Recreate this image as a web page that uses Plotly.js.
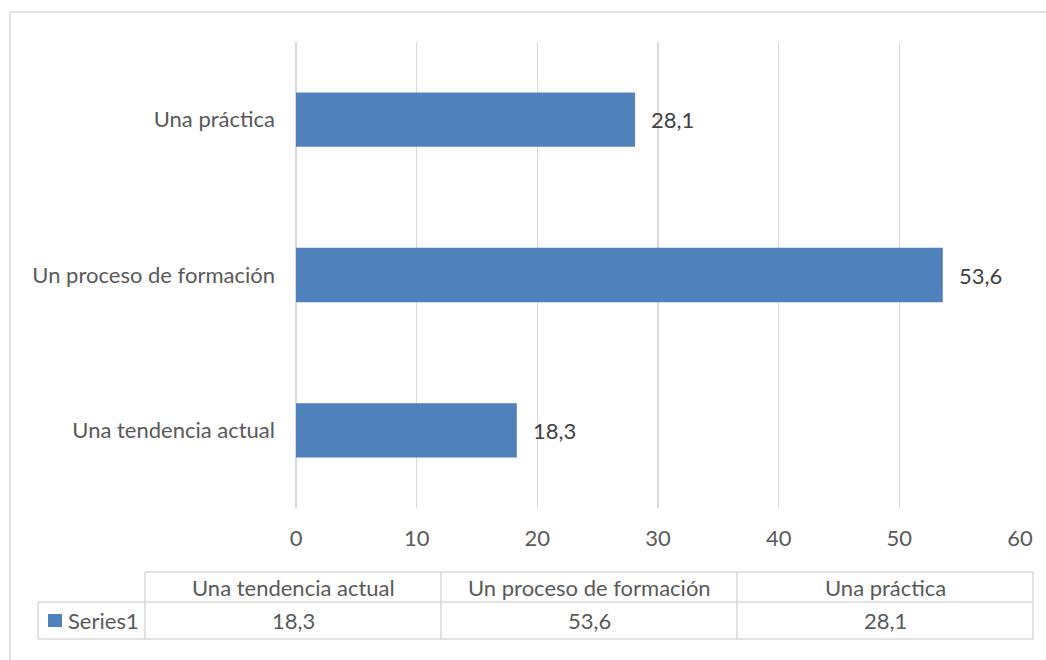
<!DOCTYPE html>
<html>
<head>
<meta charset="utf-8">
<script src="https://cdn.plot.ly/plotly-3.0.1.min.js"></script>
<style>html,body{margin:0;padding:0;background:#fff;}#chart{width:1046px;height:660px;}</style>
</head>
<body>
<div id="chart"></div>
<script>
const categories = ['Una tendencia actual', 'Un proceso de formación', 'Una práctica'];
const values = [18.3, 53.6, 28.1];
const seriesName = 'Series1';
const xTicks = [0, 10, 20, 30, 40, 50, 60];

const W = 1046, H = 660;
const M = {l: 296, r: 26, t: 42, b: 152};
const PW = W - M.l - M.r, PH = H - M.t - M.b;
const px = x => (x - M.l) / PW;
const py = y => (H - M.b - y) / PH;

const FONT = 'Lato, "Open Sans", sans-serif';
const FS = 22;
const TXT = '#595959';
const BAR = '#4f81bd';
const GRID = '#d9d9d9';
const fmt = v => v.toFixed(1).replace('.', ',');

const trace = {
  type: 'bar', orientation: 'h',
  x: values, y: categories, name: seriesName,
  width: 0.35,
  marker: {color: BAR, line: {width: 0}},
  hoverinfo: 'none'
};

const shapes = [];
const annotations = [];

// chart outer border
shapes.push({type: 'rect', xref: 'paper', yref: 'paper', x0: px(10), x1: px(1060), y0: py(12), y1: py(680),
  line: {color: GRID, width: 1.5}, fillcolor: 'rgba(0,0,0,0)', layer: 'below'});

// value labels
values.forEach((v, i) => {
  annotations.push({x: v, y: categories[i], xref: 'x', yref: 'y', text: fmt(v), showarrow: false,
    xanchor: 'left', xshift: 14, font: {family: FONT, size: FS, color: '#404040'}});
});

// data table
const tLeft = 38, tColStart = 145, tRight = 1033;
const rTop = 572, rMid = 602, rBot = 639;
const colW = (tRight - tColStart) / categories.length;
const line = {color: GRID, width: 1.5};
const hl = (x0, x1, y) => shapes.push({type: 'line', xref: 'paper', yref: 'paper', x0: px(x0), x1: px(x1), y0: py(y), y1: py(y), line});
const vl = (x, y0, y1) => shapes.push({type: 'line', xref: 'paper', yref: 'paper', x0: px(x), x1: px(x), y0: py(y0), y1: py(y1), line});
hl(tColStart, tRight, rTop);
hl(tLeft, tRight, rMid);
hl(tLeft, tRight, rBot);
vl(tLeft, rMid, rBot);
for (let i = 0; i <= categories.length; i++) vl(tColStart + i * colW, rTop, rBot);

categories.forEach((c, i) => {
  const cx = tColStart + (i + 0.5) * colW;
  annotations.push({xref: 'paper', yref: 'paper', x: px(cx), y: py((rTop + rMid) / 2), text: c, showarrow: false,
    xanchor: 'center', yanchor: 'middle', font: {family: FONT, size: FS, color: TXT}});
  annotations.push({xref: 'paper', yref: 'paper', x: px(cx), y: py((rMid + rBot) / 2), text: fmt(values[i]), showarrow: false,
    xanchor: 'center', yanchor: 'middle', font: {family: FONT, size: FS, color: TXT}});
});
// legend key
shapes.push({type: 'rect', xref: 'paper', yref: 'paper', x0: px(48), x1: px(62), y0: py(614), y1: py(627),
  fillcolor: BAR, line: {width: 0}});
annotations.push({xref: 'paper', yref: 'paper', x: px(66), y: py((rMid + rBot) / 2), text: seriesName, showarrow: false,
  xanchor: 'left', yanchor: 'middle', font: {family: FONT, size: FS, color: TXT}});

const layout = {
  width: W, height: H,
  margin: M,
  paper_bgcolor: '#fff', plot_bgcolor: '#fff',
  showlegend: false,
  font: {family: FONT, color: TXT},
  xaxis: {range: [0, 60], tickvals: xTicks, ticktext: xTicks.map(String),
    showgrid: true, gridcolor: GRID, gridwidth: 1.5, zeroline: true, zerolinecolor: GRID, zerolinewidth: 1.5,
    showline: false, ticks: '', ticklabelstandoff: 15, tickfont: {family: FONT, size: FS, color: TXT}, fixedrange: true},
  yaxis: {type: 'category', categoryorder: 'array', categoryarray: categories, range: [-0.5, 2.5],
    showgrid: false, zeroline: false, showline: false, ticks: '', ticklabelstandoff: 20,
    tickfont: {family: FONT, size: FS, color: TXT}, fixedrange: true},
  shapes, annotations
};

Plotly.newPlot('chart', [trace], layout, {displayModeBar: false, staticPlot: true});
</script>
</body>
</html>
